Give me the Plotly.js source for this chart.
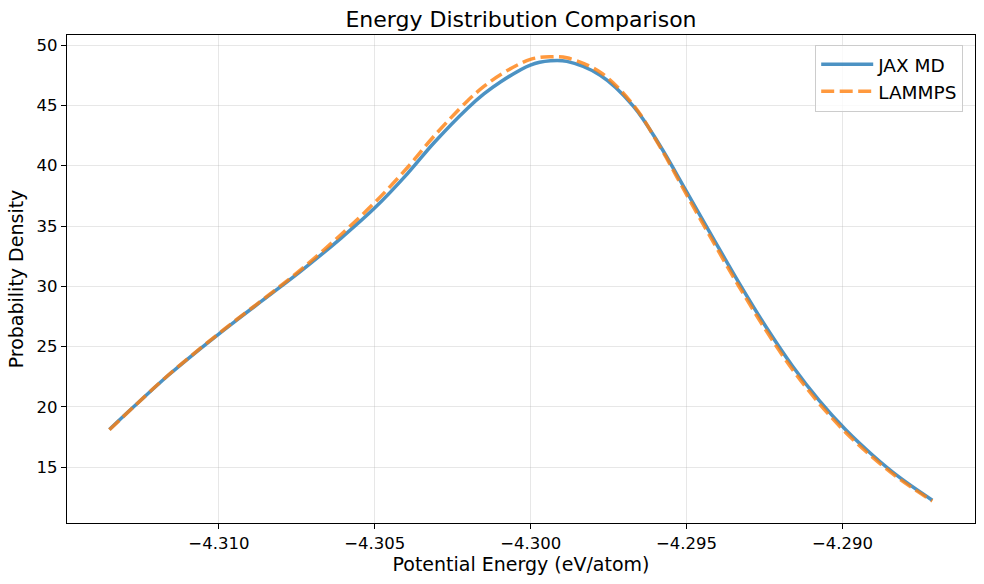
<!DOCTYPE html>
<html>
<head>
<meta charset="utf-8">
<script src="https://cdn.plot.ly/plotly-3.0.1.min.js"></script>
<style>html,body{margin:0;padding:0;background:#fff;}#chart{width:984px;height:584px;}</style>
</head>
<body>
<div id="chart"></div>
<script>
// Potential energy (eV/atom) sample positions and densities
var jaxEnergy = [-4.31351, -4.31268, -4.31162, -4.31055, -4.30949, -4.30842, -4.30736, -4.30608, -4.30498, -4.30395, -4.30310, -4.30203, -4.30150, -4.30097, -4.30001, -4.29937, -4.29884, -4.29777, -4.29671, -4.29586, -4.29500, -4.29415, -4.29330, -4.29245, -4.29160, -4.29075, -4.28989, -4.28904, -4.28819, -4.28712];
var jaxDensity = [18.13, 20.13, 22.62, 24.92, 27.08, 29.18, 31.28, 34.00, 36.55, 39.35, 41.90, 44.75, 45.95, 46.95, 48.35, 48.70, 48.65, 47.50, 44.95, 41.70, 37.85, 34.00, 30.20, 26.62, 23.37, 20.54, 18.08, 16.01, 14.19, 12.26];

var lammpsEnergy = [-4.31351, -4.31268, -4.31162, -4.31055, -4.30949, -4.30842, -4.30736, -4.30608, -4.30498, -4.30395, -4.30310, -4.30203, -4.30150, -4.30097, -4.30001, -4.29937, -4.29884, -4.29777, -4.29671, -4.29586, -4.29500, -4.29415, -4.29330, -4.29245, -4.29160, -4.29075, -4.28989, -4.28904, -4.28819, -4.28712];
var lammpsDensity = [18.10, 20.13, 22.64, 24.95, 27.12, 29.24, 31.40, 34.30, 37.00, 39.85, 42.45, 45.37, 46.57, 47.55, 48.82, 49.03, 48.95, 47.75, 45.05, 41.60, 37.60, 33.70, 29.90, 26.32, 23.09, 20.29, 17.86, 15.83, 14.05, 12.19];

var seriesNames = ["JAX MD", "LAMMPS"];
var chartTitle = "Energy Distribution Comparison";
var xTitle = "Potential Energy (eV/atom)";
var yTitle = "Probability Density";

var font = "DejaVu Sans, Liberation Sans, sans-serif";

var traces = [
  {
    x: jaxEnergy, y: jaxDensity, name: seriesNames[0], type: "scatter", mode: "lines",
    line: {color: "rgba(31,119,180,0.8)", width: 3.5, shape: "spline", smoothing: 1}
  },
  {
    x: lammpsEnergy, y: lammpsDensity, name: seriesNames[1], type: "scatter", mode: "lines",
    line: {color: "rgba(255,127,14,0.8)", width: 3.5, dash: "13px,5.5px", shape: "spline", smoothing: 1}
  }
];

var layout = {
  width: 984, height: 584,
  margin: {l: 67, r: 9, t: 35, b: 61},
  paper_bgcolor: "#ffffff", plot_bgcolor: "#ffffff",
  font: {family: font, color: "#000000", size: 16},
  title: {text: chartTitle, font: {family: font, size: 22, color: "#000"}, x: 0.5, xref: "paper", xanchor: "center", y: 0.967, yanchor: "middle"},
  xaxis: {
    range: [-4.31487, -4.28575],
    tick0: -4.31, dtick: 0.005, tickformat: ".3f",
    showgrid: true, gridcolor: "rgba(176,176,176,0.3)", gridwidth: 1,
    zeroline: false, showline: true, linecolor: "#000", linewidth: 1.2, mirror: true,
    ticks: "outside", ticklen: 5, tickwidth: 1, tickcolor: "#000",
    tickfont: {family: font, size: 16.5, color: "#000"},
    title: {text: xTitle, font: {family: font, size: 19, color: "#000"}, standoff: 4}
  },
  yaxis: {
    range: [10.37, 50.84],
    tick0: 15, dtick: 5,
    showgrid: true, gridcolor: "rgba(176,176,176,0.3)", gridwidth: 1,
    zeroline: false, showline: true, linecolor: "#000", linewidth: 1.2, mirror: true,
    ticks: "outside", ticklen: 5, tickwidth: 1, tickcolor: "#000",
    tickfont: {family: font, size: 16.5, color: "#000"},
    title: {text: yTitle, font: {family: font, size: 19, color: "#000"}, standoff: 7}
  },
  legend: {
    x: 0.987, xanchor: "right", y: 0.98, yanchor: "top",
    bgcolor: "rgba(255,255,255,0.8)", bordercolor: "#cccccc", borderwidth: 1,
    font: {family: font, size: 18.5, color: "#000"},
    itemwidth: 52,
    tracegroupgap: 0
  },
  showlegend: true
};

Plotly.newPlot("chart", traces, layout, {displayModeBar: false, staticPlot: true});
</script>
</body>
</html>
